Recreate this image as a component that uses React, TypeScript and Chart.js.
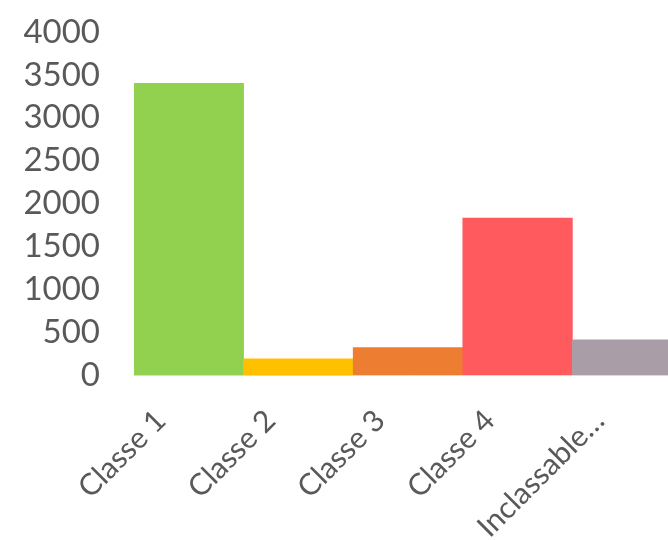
import React, { useEffect, useRef } from "react";
import { Chart, registerables } from "chart.js";

Chart.register(...registerables);

const categories = ["Classe 1", "Classe 2", "Classe 3", "Classe 4", "Inclassable…"];
const values = [3400, 190, 320, 1830, 410];
const barColors = ["#92d050", "#ffc000", "#ed7d31", "#ff5b5f", "#a99ea8"];
const yTicks = [0, 500, 1000, 1500, 2000, 2500, 3000, 3500, 4000];

const FONT = "Lato, 'Liberation Sans', sans-serif";

export default function App() {
  const ref = useRef<HTMLCanvasElement | null>(null);
  useEffect(() => {
    if (!ref.current) return;
    const chart = new Chart(ref.current, {
      type: "bar",
      data: {
        labels: categories,
        datasets: [
          {
            data: values,
            backgroundColor: barColors,
            borderWidth: 0,
            barPercentage: 1,
            categoryPercentage: 1,
          },
        ],
      },
      options: {
        responsive: false,
        animation: false,
        layout: { padding: { top: 24, right: 26, left: 0, bottom: 0 } },
        plugins: { legend: { display: false }, tooltip: { enabled: false } },
        scales: {
          x: {
            grid: { display: false, drawTicks: false },
            border: { display: true, color: "#d9d9d9", width: 1 },
            ticks: {
              autoSkip: false,
              minRotation: 45,
              maxRotation: 45,
              padding: 28,
              labelOffset: -28,
              color: "#595959",
              font: { family: FONT, size: 30 },
            },
            afterFit: (scale: any) => {
              scale.height = 165;
              scale.paddingLeft = 0;
              scale.paddingRight = 0;
            },
          },
          y: {
            min: 0,
            max: 4000,
            afterBuildTicks: (scale: any) => {
              scale.ticks = yTicks.map((v) => ({ value: v }));
            },
            grid: { display: false, drawTicks: false },
            border: { display: false },
            ticks: {
              autoSkip: false,
              padding: 34,
              color: "#595959",
              font: { family: FONT, size: 33 },
              callback: (v: any) => String(v),
            },
            afterFit: (scale: any) => {
              scale.width = 126;
              scale.paddingTop = 0;
              scale.paddingBottom = 0;
            },
          },
        },
      },
    });
    return () => chart.destroy();
  }, []);
  return (
    <div
      style={{
        position: "fixed",
        left: 8,
        top: 8,
        width: 660,
        height: 532,
        overflow: "hidden",
      }}
    >
      <canvas ref={ref} width={700} height={532} style={{ display: "block" }} />
    </div>
  );
}
